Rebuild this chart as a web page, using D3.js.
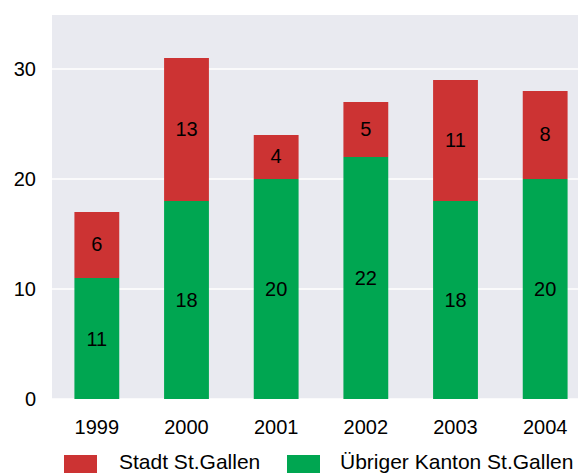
<!DOCTYPE html>
<html><head><meta charset="utf-8">
<script src="https://cdn.jsdelivr.net/npm/d3@7"></script>
<style>body{margin:0;background:#fff;}svg{display:block;font-family:"Liberation Sans",Arial,sans-serif;}</style>
</head><body>
<svg id="c" width="578" height="473"></svg>
<script>
const years = ["1999","2000","2001","2002","2003","2004"];
const stadt = [6,13,4,5,11,8];
const uebriger = [11,18,20,22,18,20];
const yTicks = [0,10,20,30];
const seriesNames = ["Stadt St.Gallen","Übriger Kanton St.Gallen"];
const colors = {stadt:"#cc3333", uebriger:"#00a651"};

const svg = d3.select("#c");
const x = d3.scaleBand().domain(years).range([52,590]).paddingInner(0.5).paddingOuter(0.25);
const y = d3.scaleLinear().domain([0,35]).range([399,14]);

svg.append("rect").attr("x",52).attr("y",y(35)+1).attr("width",540).attr("height",y(0)-y(35)-1).attr("fill","#e9eaf0");
svg.append("g").selectAll("line").data(yTicks).join("line")
  .attr("x1",52).attr("x2",590).attr("y1",d=>y(d)).attr("y2",d=>y(d))
  .attr("stroke","#fff").attr("stroke-width",1.5);

const data = years.map((yr,i)=>({yr, u:uebriger[i], s:stadt[i]}));
const g = svg.append("g");
g.selectAll(".u").data(data).join("rect").attr("x",d=>x(d.yr)).attr("width",x.bandwidth())
  .attr("y",d=>y(d.u)).attr("height",d=>y(0)-y(d.u)).attr("fill",colors.uebriger);
g.selectAll(".s").data(data).join("rect").attr("x",d=>x(d.yr)).attr("width",x.bandwidth())
  .attr("y",d=>y(d.u+d.s)).attr("height",d=>y(d.u)-y(d.u+d.s)).attr("fill",colors.stadt);
g.selectAll(".ul").data(data).join("text").attr("x",d=>x(d.yr)+x.bandwidth()/2)
  .attr("y",d=>y(d.u/2)+7).attr("text-anchor","middle").attr("font-size",20).text(d=>d.u);
g.selectAll(".sl").data(data).join("text").attr("x",d=>x(d.yr)+x.bandwidth()/2)
  .attr("y",d=>y(d.u+d.s/2)+6).attr("text-anchor","middle").attr("font-size",20).text(d=>d.s);

const yAxis = svg.append("g").attr("transform","translate(36,0)")
  .call(d3.axisLeft(y).tickValues(yTicks).tickSize(0).tickPadding(0));
yAxis.select(".domain").remove();
yAxis.selectAll("text").attr("font-size",20).attr("fill","#000").attr("font-family","Liberation Sans, Arial, sans-serif");

const xAxis = svg.append("g").attr("transform","translate(0,414)")
  .call(d3.axisBottom(x).tickSize(0).tickPadding(6));
xAxis.select(".domain").remove();
xAxis.selectAll("text").attr("font-size",20).attr("fill","#000").attr("font-family","Liberation Sans, Arial, sans-serif");

const leg = svg.append("g");
const legItems = [{n:seriesNames[0],c:colors.stadt,x:64,tx:119},{n:seriesNames[1],c:colors.uebriger,x:287,tx:340}];
leg.selectAll("rect").data(legItems).join("rect").attr("x",d=>d.x).attr("y",455).attr("width",33).attr("height",18).attr("fill",d=>d.c);
leg.selectAll("text").data(legItems).join("text").attr("x",d=>d.tx).attr("y",469).attr("font-size",21).text(d=>d.n);
</script>
</body></html>
